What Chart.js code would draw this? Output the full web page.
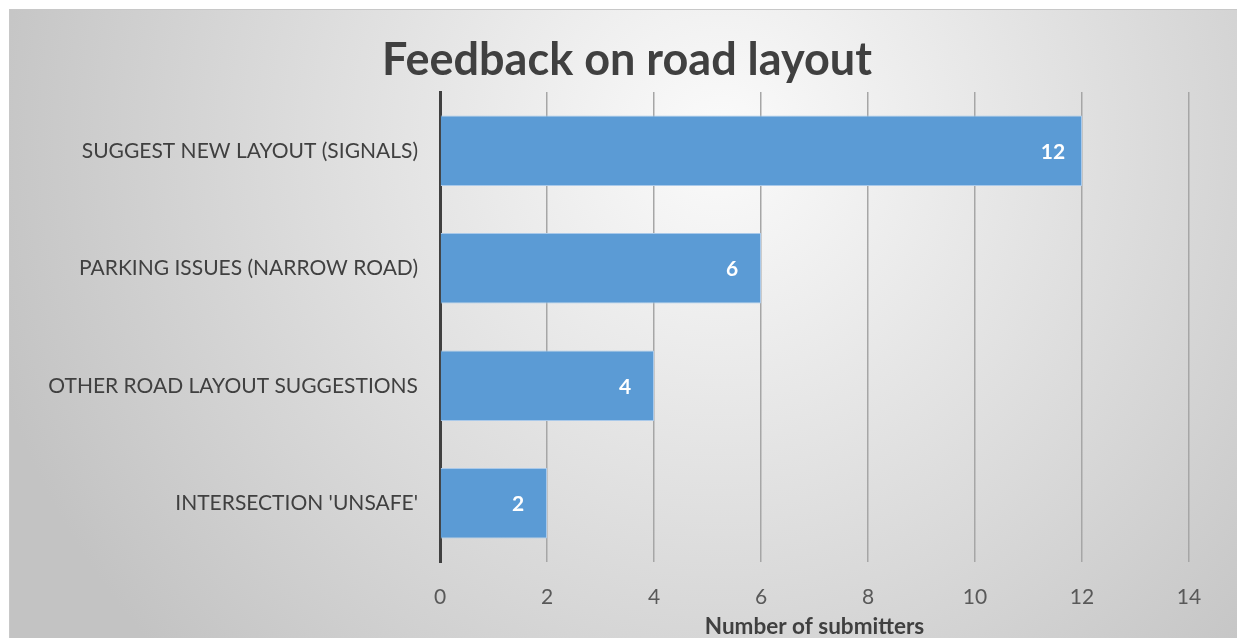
<!DOCTYPE html>
<html>
<head>
<meta charset="utf-8">
<script src="https://cdn.jsdelivr.net/npm/chart.js@4"></script>
<style>
  html, body { margin: 0; padding: 0; background: #ffffff; }
  #wrap { width: 1237px; height: 638px; }
</style>
</head>
<body>
<div id="wrap"><canvas id="roadChart" width="1237" height="638"></canvas></div>
<script>
var chartTitle = 'Feedback on road layout';
var categories = [
    'SUGGEST NEW LAYOUT (SIGNALS)',
    'PARKING ISSUES (NARROW ROAD)',
    'OTHER ROAD LAYOUT SUGGESTIONS',
    "INTERSECTION 'UNSAFE'"
];
var submitters = [12, 6, 4, 2];
var xTicks = [0, 2, 4, 6, 8, 10, 12, 14];

var fontName = 'Lato, "Open Sans", sans-serif';

// gray radial background of the chart frame
var frameBackground = {
    id: 'frameBackground',
    beforeDraw: function(chart) {
        var ctx = chart.ctx;
        ctx.save();
        var g = ctx.createRadialGradient(720, 140, 0, 720, 140, 760);
        g.addColorStop(0, '#fbfbfb');
        g.addColorStop(1, '#c3c3c3');
        ctx.fillStyle = g;
        ctx.fillRect(9, 9, chart.width - 9, chart.height - 9);
        ctx.strokeStyle = '#c8c8c8';
        ctx.lineWidth = 1;
        ctx.strokeRect(9.5, 9.5, chart.width, chart.height);
        ctx.restore();
    }
};

// title centred on the whole frame, not on the padded box
var frameTitle = {
    id: 'frameTitle',
    afterDraw: function(chart) {
        var ctx = chart.ctx;
        ctx.save();
        ctx.fillStyle = '#404040';
        ctx.font = 'bold 45px ' + fontName;
        ctx.textAlign = 'center';
        ctx.textBaseline = 'middle';
        ctx.fillText(chartTitle, (9 + chart.width) / 2 + 4, 60);
        ctx.restore();
    }
};

// white value labels inside the end of each bar
var barValues = {
    id: 'barValues',
    afterDatasetsDraw: function(chart) {
        var ctx = chart.ctx;
        var meta = chart.getDatasetMeta(0);
        ctx.save();
        ctx.fillStyle = '#ffffff';
        ctx.font = 'bold 21px ' + fontName;
        ctx.textAlign = 'center';
        ctx.textBaseline = 'middle';
        meta.data.forEach(function(bar, i) {
            ctx.fillText(String(submitters[i]), bar.x - 29, bar.y + 1);
        });
        ctx.restore();
    }
};

var ctx = document.getElementById('roadChart').getContext('2d');
var chart = new Chart(ctx, {
    type: 'bar',
    data: {
        labels: categories,
        datasets: [{
            label: 'Number of submitters',
            data: submitters,
            backgroundColor: '#5b9bd5',
            borderColor: '#a9c9ea',
            borderWidth: 1,
            borderSkipped: 'start',
            categoryPercentage: 0.6,
            barPercentage: 1.0
        }]
    },
    options: {
        indexAxis: 'y',
        responsive: false,
        animation: false,
        layout: {
            padding: { left: 10, right: 48, top: 92, bottom: 0 }
        },
        plugins: {
            legend: { display: false },
            tooltip: { enabled: false },
            title: { display: false }
        },
        scales: {
            x: {
                min: 0,
                max: 14,
                afterBuildTicks: function(scale) {
                    scale.ticks = xTicks.map(function(v) { return { value: v }; });
                },
                afterFit: function(scale) { scale.height = 76; },
                grid: {
                    color: '#a6a6a6',
                    lineWidth: 1.5,
                    drawTicks: false
                },
                border: { display: false },
                ticks: {
                    color: '#595959',
                    font: { family: fontName, size: 21 },
                    padding: 23
                },
                title: {
                    display: true,
                    text: 'Number of submitters',
                    color: '#404040',
                    font: { family: fontName, size: 22.5, weight: 'bold' },
                    padding: { top: 0, bottom: -2 }
                }
            },
            y: {
                afterFit: function(scale) { scale.width = 430; },
                grid: { display: false, drawTicks: false },
                border: { display: true, color: '#404040', width: 3 },
                ticks: {
                    color: '#404040',
                    font: { family: fontName, size: 21 },
                    padding: 22
                }
            }
        }
    },
    plugins: [frameBackground, frameTitle, barValues]
});
</script>
</body>
</html>
